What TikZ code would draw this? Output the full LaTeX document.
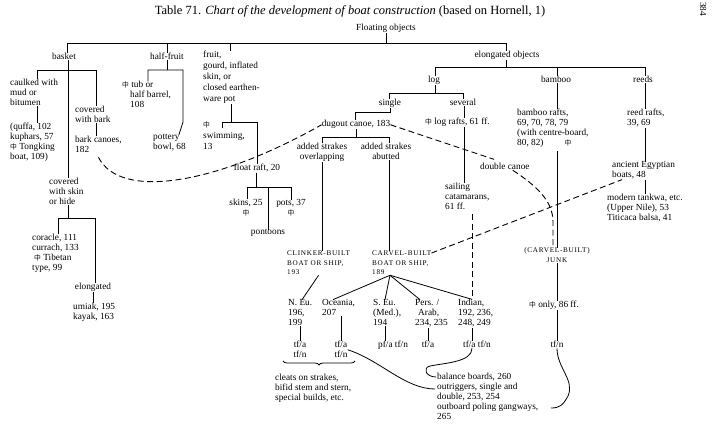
\documentclass[tikz,border=0pt]{standalone}
\usepackage{fontspec}
\setmainfont{Liberation Serif}
\newfontfamily\cjk{Noto Sans CJK SC}
\newfontfamily\capsfont[LetterSpace=10]{Liberation Serif}
\usetikzlibrary{decorations.pathreplacing}
\newcommand\fsz{\fontsize{9.3}{10}\selectfont}
\newcommand\fszw{\fontsize{9.3}{11}\selectfont}
\newcommand\zh{{\cjk\fontsize{6.8}{6.8}\selectfont 中}}
\newcommand\cps{\capsfont\fontsize{7.2}{9.5}\selectfont}
\tikzset{
  txt/.style={inner sep=0pt, font=\fsz, align=left},
  txtc/.style={inner sep=0pt, font=\fsz, align=center},
  ln/.style={line width=0.8pt},
  dsh/.style={line width=0.9pt, dash pattern=on 6pt off 3.5pt},
}
\begin{document}
\begin{tikzpicture}[x=1pt,y=-1pt]
\useasboundingbox (0,0) rectangle (718,427);
\fill[white] (0,0) rectangle (718,427);

% ---------- texts (base = baseline of last line) ----------
\node[txt,anchor=base] (title) at (350,15) {\fontsize{12.5}{14}\selectfont Table 71. \textit{Chart of the development of boat construction} (based on Hornell, 1)};
\node[txt,anchor=base,rotate=-90] (page) at (700,9) {384};
\node[txt,anchor=base] (floating) at (386,31) {Floating objects};
\node[txt,anchor=base] (basket) at (64,60) {basket};
\node[txt,anchor=base] (halffruit) at (167,60) {half-fruit};
\node[txt,anchor=base west,font=\fszw] (fruit) at (203,102) {fruit,\\gourd, inflated\\skin, or\\closed earthen-\\ware pot};
\node[txt,anchor=base] (elong) at (507,58) {elongated objects};

\node[txt,anchor=base west] (caulked) at (10,106) {caulked with\\mud or\\bitumen};
\node[txt,anchor=base west] (quffa) at (10,160) {(quffa, 102\\kuphars, 57\\\zh\ Tongking\\boat, 109)};
\node[txt,anchor=base west] (covbark) at (75,123) {covered\\with bark};
\node[txt,anchor=base west] (barkcanoe) at (75,153) {bark canoes,\\182};
\node[txt,anchor=base west] (skin) at (49,205) {covered\\with skin\\or hide};
\node[txt,anchor=base west] (coracle) at (32,271) {coracle, 111\\currach, 133\\\hspace*{2pt}\zh\ Tibetan\\type, 99};
\node[txt,anchor=base] (elongsk) at (93,290) {elongated};
\node[txt,anchor=base west] (umiak) at (73,320) {umiak, 195\\kayak, 163};

\node[txt,anchor=base west] (tub) at (122,108) {\zh\ tub or\\\hspace*{8pt}half barrel,\\\hspace*{8pt}108};
\node[txt,anchor=base west] (pottery) at (153,150) {pottery\\bowl, 68};

\node[txt,anchor=base west,font=\fszw] (swim) at (203,150) {\zh\\swimming,\\13};
\node[txt,anchor=base] (float) at (257,171) {float raft, 20};
\node[txtc,anchor=base] (skins) at (246,216) {skins, 25\\\zh};
\node[txtc,anchor=base] (pots) at (291,216) {pots, 37\\\zh};
\node[txt,anchor=base] (pontoons) at (268,235) {pontoons};

\node[txt,anchor=base] (log) at (434,83) {log};
\node[txt,anchor=base] (bamboo) at (556,83) {bamboo};
\node[txt,anchor=base] (reeds) at (643,83) {reeds};
\node[txt,anchor=base] (single) at (390,106) {single};
\node[txt,anchor=base] (several) at (463,106) {several};
\node[txt,anchor=base] (dugout) at (356,127) {dugout canoe, 183};
\node[txtc,anchor=base] (overlap) at (322,160) {added strakes\\overlapping};
\node[txtc,anchor=base] (abutted) at (386,160) {added strakes\\abutted};
\node[txt,anchor=base west,font=\cps] (clinker) at (287,275) {CLINKER-BUILT\\BOAT OR SHIP,\\193};
\node[txt,anchor=base west,font=\cps] (carvel) at (372,275) {CARVEL-BUILT\\BOAT OR SHIP,\\189};
\node[txt,anchor=base west] (lograft) at (425,125) {\zh\ log rafts, 61 ff.};
\node[txt,anchor=base west] (sailing) at (445,210) {sailing\\catamarans,\\61 ff.};
\node[txt,anchor=base west] (double) at (480,170) {double canoe};

\node[txt,anchor=base west] (bamrafts) at (517,146) {bamboo rafts,\\69, 70, 78, 79\\(with centre-board,\\80, 82)};
\node[txt,anchor=base] (bamsym) at (568,146) {\zh};
\node[txtc,anchor=base,font=\cps] (junk) at (557,262.5) {(CARVEL-BUILT)\\JUNK};
\node[txt,anchor=base] (only) at (554,308) {\zh\ only, 86 ff.};
\node[txt,anchor=base] (junktf) at (557,348) {tf/n};

\node[txt,anchor=base west] (reedrafts) at (627,126) {reed rafts,\\39, 69};
\node[txt,anchor=base west] (egypt) at (612,178) {ancient Egyptian\\boats, 48};
\node[txt,anchor=base west] (modern) at (607,221) {modern tankwa, etc.\\(Upper Nile), 53\\Titicaca balsa, 41};

\node[txt,anchor=base west] (neu) at (288,326) {N. Eu.\\196,\\199};
\node[txt,anchor=base west] (oceania) at (322,316) {Oceania,\\207};
\node[txt,anchor=base west] (seu) at (373,326) {S. Eu.\\(Med.),\\194};
\node[txt,anchor=base west] (pers) at (415,326) {Pers. /\\\hspace*{3pt}Arab,\\234, 235};
\node[txt,anchor=base west] (indian) at (458,326) {Indian,\\192, 236,\\248, 249};
\node[txtc,anchor=base] (neutf) at (300,358) {tf/a\\tf/n};
\node[txtc,anchor=base] (oceantf) at (341,358) {tf/a\\tf/n};
\node[txt,anchor=base west] (seutf) at (378,348) {pf/a tf/n};
\node[txt,anchor=base] (perstf) at (428,348) {tf/a};
\node[txt,anchor=base west] (indtf) at (463,348) {tf/a tf/n};
\node[txt,anchor=base west] (cleats) at (275,401) {cleats on strakes,\\bifid stem and stern,\\special builds, etc.};
\node[txt,anchor=base west] (balance) at (437,420) {balance boards, 260\\outriggers, single and\\double, 253, 254\\outboard poling gangways,\\265};

% ---------- coordinates ----------
\coordinate (tbL) at (67,43); \coordinate (tbR) at (506,43); \coordinate (fx) at (230,43);
\coordinate (bL) at (37,70); \coordinate (bR) at (96,70); \coordinate (bC) at (68,70);
\coordinate (sL) at (58,218); \coordinate (sR) at (95,218);
\coordinate (hL) at (148,70); \coordinate (hR) at (183,70); \coordinate (hP) at (179,0);
\coordinate (gL) at (222,122); \coordinate (gR) at (257,122); \coordinate (gC) at (231,122);
\coordinate (fL) at (247,187); \coordinate (fR) at (291,187); \coordinate (fC) at (256,187);
\coordinate (eL) at (435,67); \coordinate (eR) at (645,67); \coordinate (bx) at (557,67);
\coordinate (lL) at (389,93); \coordinate (lR) at (463,93);
\coordinate (sg1) at (390,112); \coordinate (sg2) at (355,112);
\coordinate (dL) at (322,137); \coordinate (dR) at (389,137); \coordinate (dC) at (356,137);
\coordinate (sv) at (464,0); \coordinate (bmx) at (557,0); \coordinate (rx) at (645,0);
\coordinate (jx) at (553,0); \coordinate (dx) at (472,0);
\coordinate (nx) at (302,0); \coordinate (cfx) at (390,0);
\coordinate (ox) at (333,0); \coordinate (sx) at (385,0); \coordinate (px) at (420,0); \coordinate (ix) at (472,0);
\coordinate (outr) at (435,389); \coordinate (bal1) at (436,377); \coordinate (outb) at (551,408);

% ---------- solid connectors ----------
\draw[ln] (floating.south) -- (floating.south |- tbL);
\draw[ln] (basket.north -| tbL) -- (tbL) -- (tbR) -- (elong.north -| tbR);
\draw[ln] (halffruit.north) -- (halffruit.north |- tbL);
\draw[ln] (fx) -- (fx |- fruit.north);

\draw[ln] (basket.south -| bC) -- (skin.north -| bC);
\draw[ln] (caulked.north -| bL) -- (bL) -- (bR) -- (covbark.north -| bR);
\draw[ln] (caulked.south -| bL) -- (quffa.north -| bL);
\draw[ln] (covbark.south -| bR) -- (barkcanoe.north -| bR);
\draw[ln] (skin.south -| bC) -- (bC |- sL);
\draw[ln] (coracle.north -| sL) -- (sL) -- (sR) -- (elongsk.north -| sR);
\draw[ln] (elongsk.south) -- (elongsk.south |- umiak.north);

\draw[ln] (halffruit.south) -- (halffruit.south |- hL);
\draw[ln] (tub.north -| hL) -- (hL) -- (hR) -- ++(0,52) -- (pottery.north -| hP);

\draw[ln] (fruit.south -| gC) -- (gC);
\draw[ln] ([yshift=-6pt]gL) -- (gL) -- (gR) -- (float.north -| gR);
\draw[ln] (float.south -| fC) -- (fC);
\draw[ln] (skins.north -| fL) -- (fL) -- (fR) -- (pots.north -| fR);
\draw[ln] (pontoons.north) -- (pontoons.north |- fL);

\draw[ln] (elong.south -| tbR) -- (tbR |- eL);
\draw[ln] (log.north -| eL) -- (eL) -- (eR) -- (reeds.north -| eR);
\draw[ln] (bx) -- (bx |- bamboo.north);
\draw[ln] (log.south -| eL) -- (eL |- lL);
\draw[ln] (single.north -| lL) -- (lL) -- (lR) -- (several.north -| lR);
\draw[ln] (single.south -| sg1) -- (sg1) -- (sg2) -- (dugout.north -| sg2);
\draw[ln] (dugout.south -| dC) -- (dC);
\draw[ln] (overlap.north -| dL) -- (dL) -- (dR) -- (abutted.north -| dR);
\draw[ln] (overlap.south -| dL) -- (clinker.north -| dL);
\draw[ln] (abutted.south -| dR) -- (carvel.north -| dR);
\draw[ln] (several.south -| sv) -- (lograft.north -| sv);
\draw[ln] (lograft.south -| sv) -- (sailing.north -| sv);

\draw[ln] (bamboo.south -| bmx) -- (bamrafts.north -| bmx);
\draw[ln] ([yshift=-3pt]bamrafts.south -| bmx) -- (junk.north -| bmx);
\draw[ln] (junk.south -| bmx) -- (only.north -| bmx);
\draw[ln] (only.south -| bmx) -- (junktf.north -| bmx);

\draw[ln] (reeds.south -| rx) -- (reedrafts.north -| rx);
\draw[ln] (reedrafts.south -| rx) -- (egypt.north -| rx);
\draw[ln] (egypt.south -| rx) -- (modern.north -| rx);

\draw[ln] (clinker.south) -- (neu.north -| nx);
\draw[ln] (carvel.south -| cfx) -- (oceania.north -| ox);
\draw[ln] (carvel.south -| cfx) -- (seu.north -| sx);
\draw[ln] (carvel.south -| cfx) -- (pers.north -| px);
\draw[ln] (carvel.south -| cfx) -- (indian.north -| ix);

\draw[ln] (neutf.north) -- (neutf.north |- neu.south);
\draw[ln] (oceantf.north) -- (oceantf.north |- oceania.south);
\draw[ln] (seu.south -| sx) -- (seutf.north -| sx);
\draw[ln] (perstf.north) -- (perstf.north |- pers.south);
\draw[ln] (indian.south -| ix) -- (indtf.north -| ix);

\draw[ln, decorate, decoration={brace, mirror, amplitude=4pt}] (283,361) -- (355,361);

\draw[ln] (oceantf.east) .. controls (380,360) and (405,389) .. (outr);
\draw[ln] (indtf.south -| ix) .. controls (472,362) and (445,363) .. (430,366) .. controls (422,368) and (426,377) .. (bal1);
\draw[ln] (junktf.south) .. controls (557,368) and (575,380) .. (568,396) .. controls (563,405) and (560,408) .. (outb);

% ---------- dashed connectors ----------
\draw[dsh] ([yshift=-4pt]barkcanoe.south) .. controls (120,200) and (215,185) .. (dugout.west);
\draw[dsh] (dugout.east) -- ([xshift=14pt,yshift=4pt]double.north west);
\draw[dsh] ([xshift=8pt]double.south) .. controls (535,185) and (553,200) .. (553,222) -- (junk.north -| jx);
\draw[dsh] ([yshift=-2pt]carvel.north east) -- ([xshift=10pt]egypt.south west);
\draw[dsh] ([yshift=-4pt]sailing.south -| dx) -- (indian.north -| dx);
\end{tikzpicture}
\end{document}
